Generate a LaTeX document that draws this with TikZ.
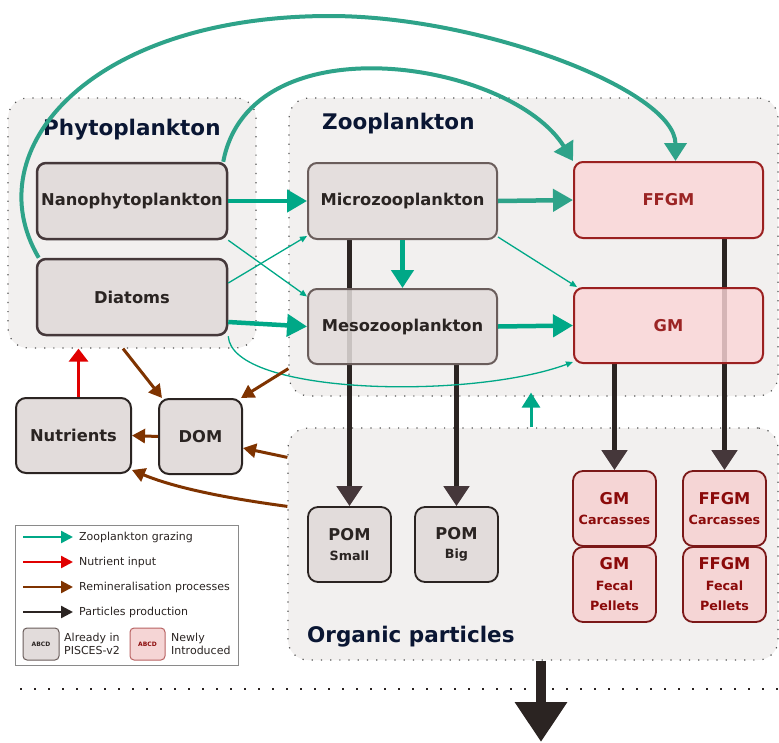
\documentclass[tikz,border=0pt]{standalone}
\usepackage{fontspec}
\setmainfont{DejaVu Sans}
\usetikzlibrary{arrows.meta}
\definecolor{groupfill}{HTML}{F2F0EF}
\definecolor{groupline}{HTML}{555555}
\definecolor{titlec}{HTML}{0A1633}
\definecolor{boxfill}{HTML}{E2DCDB}
\definecolor{boxline}{HTML}{45383A}
\definecolor{boxlineL}{HTML}{6A5D5B}
\definecolor{boxtext}{HTML}{2A2422}
\definecolor{pinkfill}{HTML}{FBD6D7}
\definecolor{pinkline}{HTML}{9B2020}
\definecolor{pinktext}{HTML}{9B2424}
\definecolor{pinkfillB}{HTML}{F5D5D5}
\definecolor{pinklineB}{HTML}{7B1818}
\definecolor{pinktextB}{HTML}{8B0A0A}
\definecolor{graze}{HTML}{00A887}
\definecolor{grazeD}{HTML}{2EA389}
\definecolor{remin}{HTML}{7F3300}
\definecolor{nutin}{HTML}{E00000}
\definecolor{prodc}{HTML}{2B2422}
\definecolor{prodhead}{HTML}{45373A}
\definecolor{legline}{HTML}{8A8A8A}
\pgfdeclarelayer{groups}
\pgfdeclarelayer{lines}
\pgfsetlayers{groups,lines,main}
\tikzset{
  group/.style={draw=groupline, fill=groupfill, rounded corners=20pt, line width=1.2pt,
    dash pattern=on 1.2pt off 8pt, inner sep=0pt},
  gtitle/.style={font=\bfseries\fontsize{21.5}{25}\selectfont, text=titlec, anchor=base west, inner sep=0pt},
  graybox/.style={draw=boxline, fill=boxfill, rounded corners=9pt, line width=2.5pt,
    minimum width=190pt, minimum height=76pt, inner sep=0pt, align=center,
    font=\bfseries\fontsize{16.3}{21}\selectfont, text=boxtext},
  zoobox/.style={graybox, draw=boxlineL, line width=2pt, fill opacity=0.86, text opacity=1},
  pinkbox/.style={draw=pinkline, fill=pinkfill, rounded corners=9pt, line width=2pt,
    minimum width=189pt, minimum height=76pt, inner sep=0pt, align=center, fill opacity=0.82,
    text opacity=1, font=\bfseries\fontsize{16.3}{21}\selectfont, text=pinktext},
  smallgray/.style={graybox, draw=prodc, line width=1.8pt, minimum width=83pt, minimum height=75pt,
    rounded corners=10pt, font=\bfseries\fontsize{16.3}{20.5}\selectfont},
  smallpink/.style={draw=pinklineB, fill=pinkfillB, rounded corners=10pt, line width=1.8pt,
    minimum width=83pt, minimum height=75pt, inner sep=0pt, align=center,
    font=\bfseries\fontsize{16.3}{20.5}\selectfont, text=pinktextB},
  grazethick/.style={draw=graze, line width=4.5pt, -{Triangle[length=20pt,width=22pt]}},
  grazethin/.style={draw=graze, line width=1.3pt, -{Triangle[length=7pt,width=6pt]}},
  grazecurve/.style={draw=grazeD, line width=4pt, -{Triangle[length=18pt,width=22pt]}},
  reminarrow/.style={draw=remin, line width=3pt, -{Triangle[length=13pt,width=14pt]}},
  nutarrow/.style={draw=nutin, line width=3pt, -{Triangle[length=13pt,width=19pt]}},
  prodarrow/.style={draw=prodc, line width=5pt, -{Triangle[length=20pt,width=25pt,color=prodhead]}},
  legtext/.style={font=\fontsize{11}{13.5}\selectfont, text=boxtext, anchor=west, inner sep=0pt, align=left},
  legarrow/.style={line width=2.5pt, -{Triangle[length=12pt,width=12pt]}}
}
\begin{document}
\begin{tikzpicture}[x=1pt,y=-1pt]
\useasboundingbox (0,0) rectangle (779,742);
% groups
\begin{pgfonlayer}{groups}
\node[group, minimum width=248pt, minimum height=250pt] (phyto) at (132,223) {};
\node[group, minimum width=489pt, minimum height=298pt] (zoo) at (533.5,247) {};
\node[group, minimum width=490pt, minimum height=232pt] (org) at (533,544) {};
\end{pgfonlayer}
\node[gtitle] (phytot) at (43,135) {Phytoplankton};
\node[gtitle] (zoot) at (322,129) {Zooplankton};
\node[gtitle] (orgt) at (307,642) {Organic particles};
% boxes
\node[graybox] (nano) at (132,201) {Nanophytoplankton};
\node[graybox] (diat) at (132,297) {Diatoms};
\node[zoobox, minimum width=189pt] (micro) at (402.5,201) {Microzooplankton};
\node[zoobox, minimum width=189pt, minimum height=75pt] (meso) at (402.5,326.5) {Mesozooplankton};
\node[pinkbox] (ffgm) at (668.5,200) {FFGM};
\node[pinkbox, minimum height=75pt] (gm) at (668.5,325.5) {GM};
\node[graybox, draw=prodc, line width=2pt, minimum width=115pt, minimum height=75pt, rounded corners=10pt] (nut) at (73.5,435.5) {Nutrients};
\node[graybox, draw=prodc, line width=2pt, minimum width=83pt, minimum height=75pt, rounded corners=10pt] (dom) at (200.5,436.5) {DOM};
\node[smallgray] (poms) at (349.5,544.5) {POM\\[-1pt]{\fontsize{12.7}{20.5}\selectfont Small}};
\node[smallgray] (pomb) at (456.5,544.5) {POM\\[-1pt]{\fontsize{12.7}{20.5}\selectfont Big}};
\node[smallpink] (gmc) at (614.5,508.5) {GM\\[-1pt]{\fontsize{12.7}{20.5}\selectfont Carcasses}};
\node[smallpink] (gmf) at (614.5,584.5) {GM\\{\fontsize{12.7}{20.5}\selectfont Fecal}\\{\fontsize{12.7}{20.5}\selectfont Pellets}};
\node[smallpink] (ffc) at (724.5,508.5) {FFGM\\[-1pt]{\fontsize{12.7}{20.5}\selectfont Carcasses}};
\node[smallpink] (fff) at (724.5,584.5) {FFGM\\{\fontsize{12.7}{20.5}\selectfont Fecal}\\{\fontsize{12.7}{20.5}\selectfont Pellets}};
% particle production (behind boxes)
\begin{pgfonlayer}{lines}
\draw[prodarrow] (micro.south -| poms.north) -- (poms.north);
\draw[prodarrow] (meso.south -| pomb.north) -- (pomb.north);
\draw[prodarrow] (gm.south -| gmc.north) -- (gmc.north);
\draw[prodarrow] (ffgm.south -| ffc.north) -- (ffc.north);
\end{pgfonlayer}
% grazing
\draw[grazethick] (nano.east) -- (micro.west);
\draw[grazethick] ([yshift=-25pt]diat.east) -- (meso.west);
\draw[grazethin] (nano.south east) -- ([yshift=30pt]meso.west);
\draw[grazethin] ([yshift=14pt]diat.east) -- ([yshift=4pt]micro.south west);
\draw[grazethick, -{Triangle[length=18pt,width=22pt]}] (micro.south) -- (meso.north);
\draw[grazethick, draw=grazeD] (micro.east) -- (ffgm.west);
\draw[grazethin] ([yshift=3pt]micro.south east) -- ([xshift=4pt]gm.north west);
\draw[grazethick] (meso.east) -- (gm.west);
\draw[grazethin] (diat.south east) .. controls (232,395) and (470,400) .. ([yshift=2pt]gm.south west);
\draw[grazecurve] ([xshift=-5pt]nano.north east) .. controls (250,20) and (510,60) .. (ffgm.north west);
\draw[grazecurve] ([xshift=3pt]diat.north west) .. controls (-25,150) and (90,16) .. (330,16)
   .. controls (480,16) and ([xshift=7pt]ffgm.north |- 0,90) .. ([xshift=7pt]ffgm.north);
\draw[draw=graze, line width=3pt, -{Triangle[length=15pt,width=18pt]}] (org.north -| 531,0) -- ([yshift=4pt]zoo.south -| 531,0);
% remineralisation
\draw[reminarrow] ([xshift=-9pt]phyto.south) -- ([xshift=4pt]dom.north west);
\draw[reminarrow] ([yshift=28pt]zoo.south west) -- ([xshift=-2pt]dom.north east);
\draw[reminarrow] ([yshift=-30pt]org.north west) -- ([yshift=-11.5pt]dom.east);
\draw[reminarrow] ([yshift=-79pt]org.north west) .. controls (240,500) and (180,490) .. ([yshift=4pt]nut.south east);
\draw[reminarrow] (dom.west) -- (nut.east);
% nutrient input
\draw[nutarrow] ([xshift=5pt]nut.north) -- ([xshift=5pt]nut.north |- phyto.south);
% export
\draw[line width=1.5pt, dash pattern=on 2pt off 12pt, draw=prodc] (20,689) -- (779,689);
\coordinate (sinkend) at (541,742);
\draw[draw=prodc, line width=10pt, -{Triangle[length=40pt,width=50pt]}] (org.south -| sinkend) -- (sinkend);
% legend
\node[draw=legline, fill=white, line width=1pt, minimum width=223pt, minimum height=140pt, inner sep=0pt] (leg) at (126.5,595) {};
\coordinate (l1a) at (23,537); \coordinate (l1b) at (73,537);
\coordinate (l2a) at (23,562); \coordinate (l2b) at (73,562);
\coordinate (l3a) at (23,587); \coordinate (l3b) at (73,587);
\coordinate (l4a) at (23,612); \coordinate (l4b) at (73,612);
\draw[legarrow, draw=graze] (l1a) -- (l1b);
\draw[legarrow, draw=nutin] (l2a) -- (l2b);
\draw[legarrow, draw=remin] (l3a) -- (l3b);
\draw[legarrow, draw=prodc] (l4a) -- (l4b);
\node[legtext] (t1) at (79,537) {Zooplankton grazing};
\node[legtext] (t2) at (79,562) {Nutrient input};
\node[legtext] (t3) at (79,587) {Remineralisation processes};
\node[legtext] (t4) at (79,612) {Particles production};
\node[draw=boxlineL, fill=boxfill, line width=1pt, rounded corners=4pt, minimum width=36pt, minimum height=32pt, inner sep=0pt,
  font=\bfseries\fontsize{6}{7}\selectfont, text=boxtext] (lg1) at (41,644) {ABCD};
\node[legtext] (t5) at (64,644) {Already in\\PISCES-v2};
\node[draw=pinkline!70, fill=pinkfillB, line width=1pt, rounded corners=4pt, minimum width=35pt, minimum height=32pt, inner sep=0pt,
  font=\bfseries\fontsize{6}{7}\selectfont, text=pinktextB] (lg2) at (147.5,644) {ABCD};
\node[legtext] (t6) at (171,644) {Newly\\Introduced};
\end{tikzpicture}
\end{document}
